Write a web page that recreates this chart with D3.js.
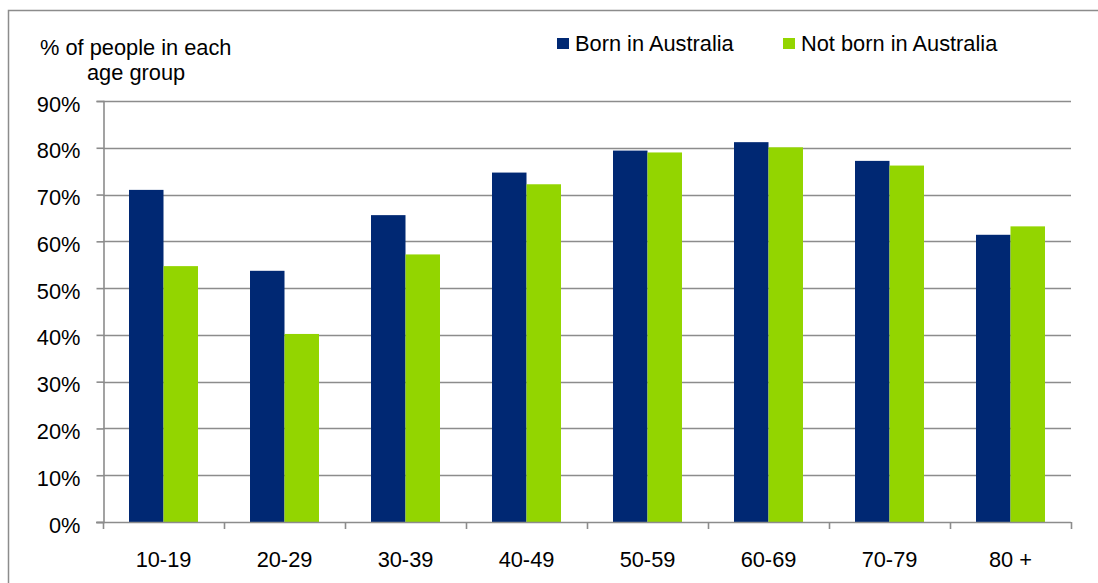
<!DOCTYPE html>
<html>
<head>
<meta charset="utf-8">
<script src="https://cdn.jsdelivr.net/npm/d3@7/dist/d3.min.js"></script>
<style>
  html, body { margin: 0; padding: 0; background: #fff; }
  svg { display: block; font-family: "Liberation Sans", Arial, sans-serif; }
</style>
</head>
<body>
<svg id="chart" width="1098" height="583"></svg>
<script>
const categories = ["10-19", "20-29", "30-39", "40-49", "50-59", "60-69", "70-79", "80 +"];
const seriesNames = ["Born in Australia", "Not born in Australia"];
const bornInAustralia = [71.0, 53.7, 65.6, 74.7, 79.4, 81.2, 77.2, 61.4];
const notBornInAustralia = [54.7, 40.2, 57.2, 72.2, 79.0, 80.1, 76.2, 63.2];
const yTicks = [0, 10, 20, 30, 40, 50, 60, 70, 80, 90];
const colors = ["#002873", "#93d500"];

(function () {
const svg = d3.select("#chart");
const pLeft = 103, pRight = 1071, pTop = 101, pBottom = 522;
const gridColor = "#8c8c8c";
const fs = 21.8;

// outer frame
svg.append("rect").attr("x", 8.5).attr("y", 10.5).attr("width", 1100).attr("height", 600)
  .attr("fill", "none").attr("stroke", "#8c8c8c").attr("stroke-width", 1.5);

const y = d3.scaleLinear().domain([0, 90]).range([pBottom, pTop]);
const x0 = d3.scaleBand().domain(categories).range([pLeft, pRight]).padding(0);
const x1 = d3.scaleBand().domain(seriesNames).range([0, x0.bandwidth()]).paddingInner(0).paddingOuter(0.754);

// gridlines
svg.append("g").selectAll("line").data(yTicks.filter(d => d > 0)).join("line")
  .attr("x1", pLeft).attr("x2", pRight)
  .attr("y1", d => Math.round(y(d)) + 0.5).attr("y2", d => Math.round(y(d)) + 0.5)
  .attr("stroke", gridColor).attr("stroke-width", 1.6);

// bars
const data = categories.map((c, i) => ({ cat: c, vals: [bornInAustralia[i], notBornInAustralia[i]] }));
const groups = svg.append("g").selectAll("g").data(data).join("g")
  .attr("transform", d => `translate(${x0(d.cat)},0)`);
groups.selectAll("rect").data(d => d.vals.map((v, j) => ({ s: seriesNames[j], v, j }))).join("rect")
  .attr("x", d => x1(d.s)).attr("width", x1.bandwidth())
  .attr("y", d => y(d.v)).attr("height", d => y(0) - y(d.v))
  .attr("fill", d => colors[d.j]);

// y axis
const yAxis = d3.axisLeft(y).tickValues(yTicks).tickSize(7).tickPadding(16).tickFormat(d => d + "%");
const yg = svg.append("g").attr("transform", `translate(${pLeft + 0.5},0)`).call(yAxis);
yg.select(".domain").attr("stroke", gridColor).attr("stroke-width", 1.6);
yg.selectAll(".tick line").attr("stroke", gridColor).attr("stroke-width", 1.6);
yg.selectAll(".tick text").attr("font-size", fs).attr("fill", "#000")
  .attr("font-family", "Liberation Sans, Arial, sans-serif").attr("dy", "0.46em");

// x axis
const xAxis = d3.axisBottom(x0).tickSize(0).tickPadding(29);
const xg = svg.append("g").attr("transform", `translate(0,${pBottom + 0.5})`).call(xAxis);
xg.select(".domain").attr("stroke", gridColor).attr("stroke-width", 1.6).attr("d", `M${pLeft - 7},0H${pRight}`);
xg.selectAll(".tick text").attr("font-size", fs).attr("fill", "#000")
  .attr("font-family", "Liberation Sans, Arial, sans-serif");
// category boundary ticks
const bounds = categories.map(c => x0(c)).concat([pRight]);
svg.append("g").selectAll("line").data(bounds).join("line")
  .attr("x1", d => Math.round(d) + 0.5).attr("x2", d => Math.round(d) + 0.5)
  .attr("y1", pBottom).attr("y2", pBottom + 7)
  .attr("stroke", gridColor).attr("stroke-width", 1.6);

// axis title
svg.append("text").attr("x", 40).attr("y", 55).attr("font-size", fs).text("% of people in each");
svg.append("text").attr("x", 87).attr("y", 80).attr("font-size", fs).text("age group");

// legend
const legendPos = [{ sx: 557, tx: 575 }, { sx: 783, tx: 801 }];
seriesNames.forEach((s, i) => {
  svg.append("rect").attr("x", legendPos[i].sx).attr("y", 38).attr("width", 12).attr("height", 11).attr("fill", colors[i]);
  svg.append("text").attr("x", legendPos[i].tx).attr("y", 51).attr("font-size", fs).text(s);
});
})();
</script>
</body>
</html>
